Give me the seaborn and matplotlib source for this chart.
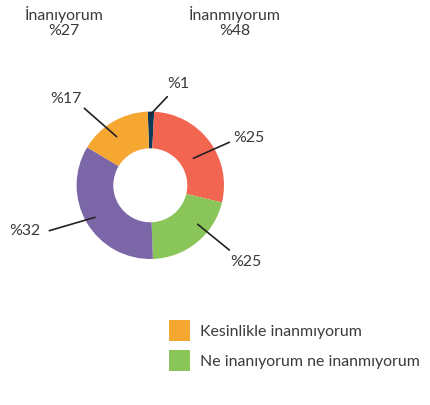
import matplotlib
matplotlib.use("Agg")
import matplotlib.pyplot as plt
import seaborn as sns

# DATA
# slice sizes read from the drawn angles; labels are the printed ones
categories = ["Hiç fikrim yok", "Inanmıyorum", "Ne inanıyorum ne inanmıyorum",
              "Inanıyorum", "Kesinlikle inanmıyorum"]
sizes = [1.4, 27.9, 20.7, 34.2, 15.8]
slice_labels = ["%1", "%25", "%25", "%32", "%17"]
colors = ["#0e3a5a", "#f26551", "#89c558", "#7b67a7", "#f6a731"]

header_titles = ["İnanıyorum", "İnanmıyorum"]
header_values = ["%27", "%48"]

legend_labels = ["Kesinlikle inanmıyorum", "Ne inanıyorum ne inanmıyorum"]
legend_colors = ["#f6a731", "#89c558"]

# LAYOUT (pixel space, y pointing up from the donut centre)
W, H = 430, 405
CX, CY = 150.3, 405 - 185.3
R_OUT, R_IN = 73.7, 37.0
label_layout = [
    # (text x, text y, line outer x, y, line inner x, y)
    (28, 101.3, 17, 88.6, -0.3, 70.3),
    (98.7, 47.6, 79, 43, 43, 27),
    (95.7, -77, 79, -64.7, 47.4, -39),
    (-125.3, -45.4, -101, -45.4, -55.3, -32),
    (-84.3, 86, -66, 77, -33.6, 48.6),
]
TXT = "#3a3a3a"
FS = 11.4

sns.set_theme(style="white")
plt.rcParams["font.family"] = ["Lato", "DejaVu Sans"]

fig = plt.figure(figsize=(W / 100, H / 100), dpi=100)
ax = fig.add_axes([0, 0, 1, 1])

ax.pie(sizes, colors=colors, startangle=92, counterclock=False,
       center=(CX, CY), radius=R_OUT, frame=True,
       wedgeprops=dict(width=R_OUT - R_IN, linewidth=0))
ax.set_xlim(0, W)
ax.set_ylim(0, H)
ax.set_aspect("equal")
ax.axis("off")

for lab, (tx, ty, x1, y1, x2, y2) in zip(slice_labels, label_layout):
    ax.plot([CX + x1, CX + x2], [CY + y1, CY + y2], color="#222222", lw=1.2)
    ax.text(CX + tx, CY + ty, lab, ha="center", va="center",
            fontsize=FS, color=TXT)

# header
for x, t, v in zip([64, 235], header_titles, header_values):
    ax.text(x, H - 20, t, ha="center", va="baseline", fontsize=FS, color=TXT)
    ax.text(x, H - 35, v, ha="center", va="baseline", fontsize=FS, color=TXT)

# legend
for i, (lab, c) in enumerate(zip(legend_labels, legend_colors)):
    ytop = 320 + i * 30
    ax.add_patch(plt.Rectangle((169, H - ytop - 20.5), 20.5, 20.5,
                               facecolor=c, edgecolor="none"))
    ax.text(200.5, H - ytop - 12, lab, ha="left", va="center",
            fontsize=FS, color=TXT)

fig.savefig("out.png", dpi=100)
